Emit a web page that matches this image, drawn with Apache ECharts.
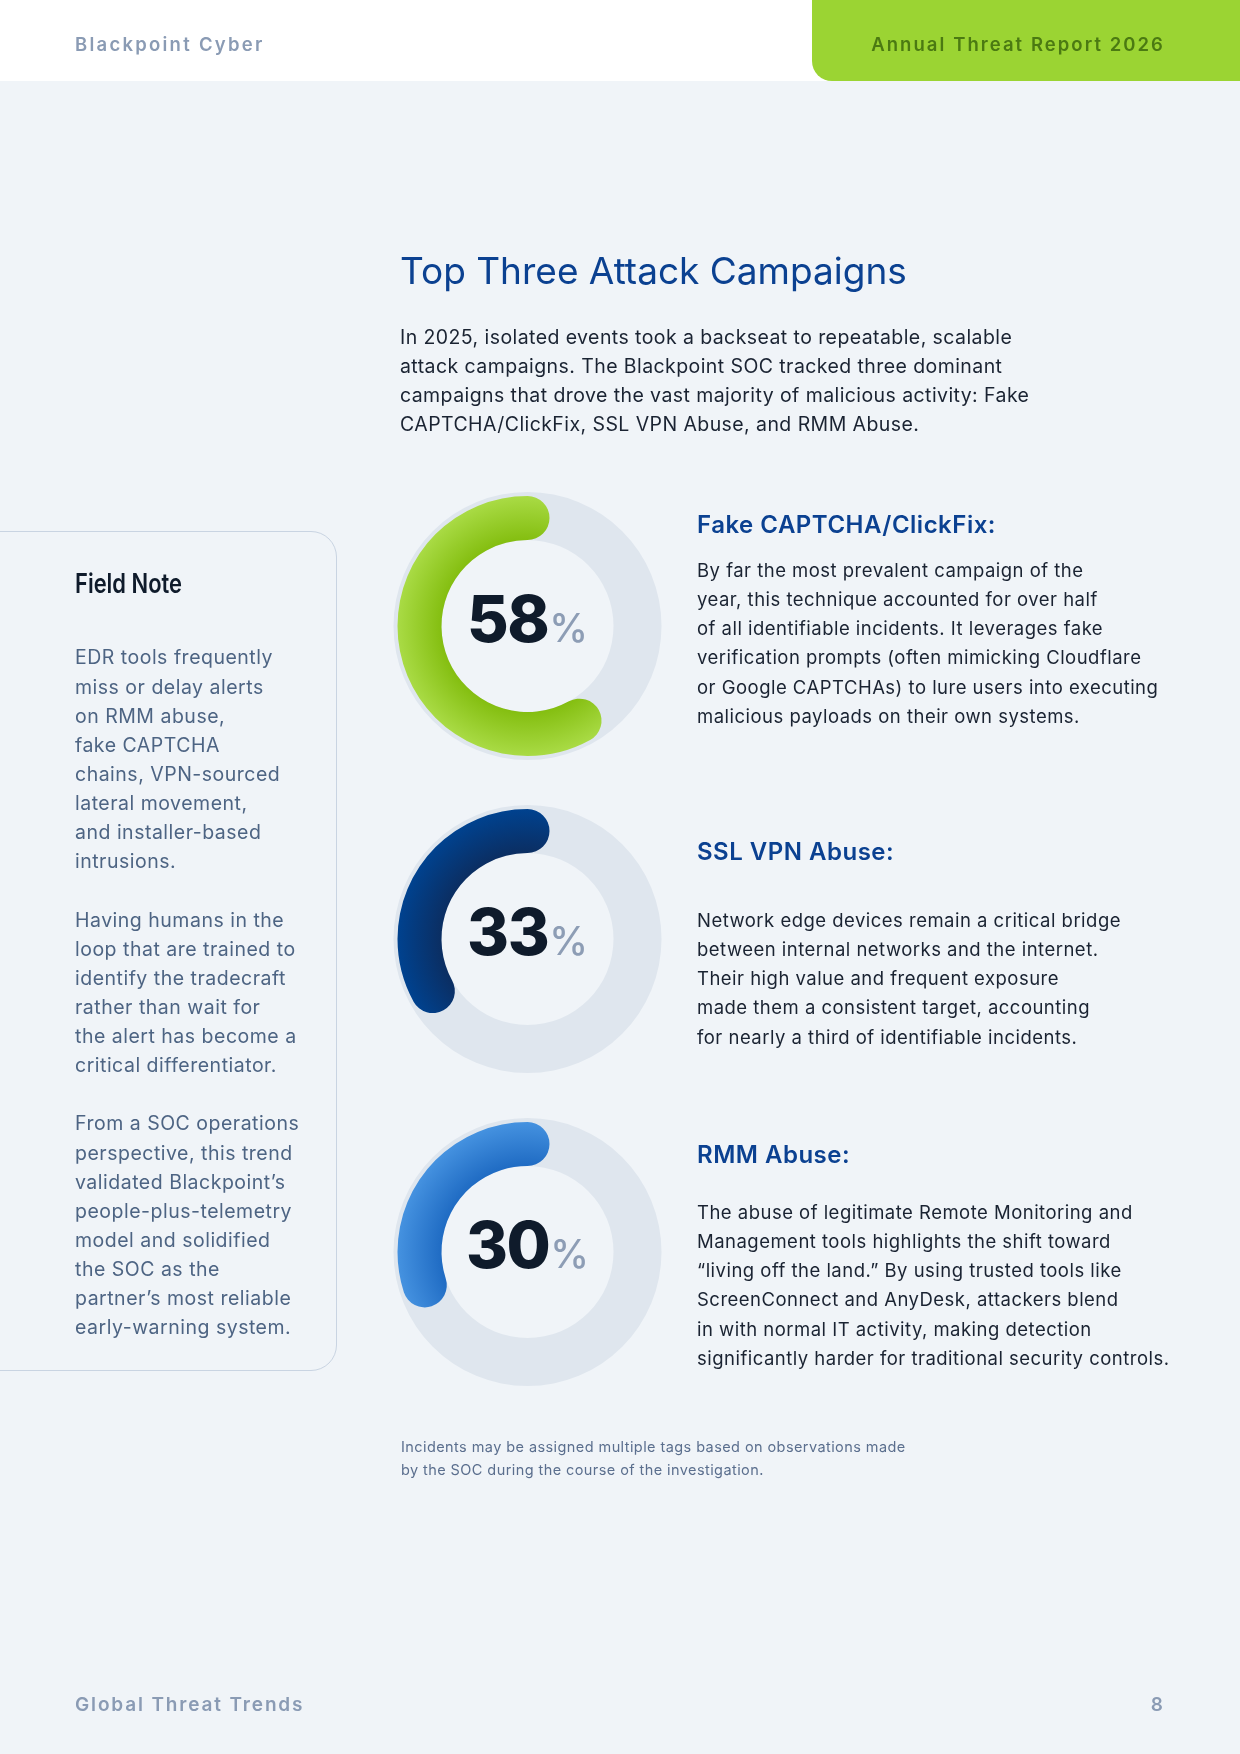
<!DOCTYPE html>
<html>
<head>
<meta charset="utf-8">
<script src="https://cdn.jsdelivr.net/npm/echarts@6/dist/echarts.min.js"></script>
<style>
  html, body { margin:0; padding:0; }
  body { width:1240px; height:1754px; background:#f0f4f8; position:relative; overflow:hidden; font-family:Inter, "Noto Sans", sans-serif; }
  .abs { position:absolute; white-space:nowrap; }
  #header { position:absolute; left:0; top:0; width:1240px; height:81px; background:#ffffff; }
  #tab { position:absolute; left:812px; top:0; width:428px; height:81px; background:#9bd433; border-bottom-left-radius:20px; }
  #chart { position:absolute; left:0; top:0; width:1240px; height:1754px; }
  #note { position:absolute; left:-30px; top:531px; width:367px; height:840px; border:1.5px solid #c9d4e2; border-radius:0 26px 26px 0; box-sizing:border-box; }
  .pct { position:absolute; width:200px; text-align:center; white-space:nowrap; line-height:1; }
  .pct .n { font-family:Inter, sans-serif; font-weight:800; font-size:64px; color:#0f1b2b; letter-spacing:-1.5px; }
  .pct .p { font-family:Inter, sans-serif; font-weight:500; font-size:39px; color:#8d9db5; margin-left:1px; }
</style>
</head>
<body>
<div id="header"></div>
<div id="tab"></div>
<div id="note"></div>
<div id="chart"></div>
<div id="texts"></div>
<script>
// ---- data ----
const campaigns = ['Fake CAPTCHA/ClickFix', 'SSL VPN Abuse', 'RMM Abuse'];
const shares = [58, 33, 30];
const descriptions = [
  ['By far the most prevalent campaign of the',
   'year, this technique accounted for over half',
   'of all identifiable incidents. It leverages fake',
   'verification prompts (often mimicking Cloudflare',
   'or Google CAPTCHAs) to lure users into executing',
   'malicious payloads on their own systems.'],
  ['Network edge devices remain a critical bridge',
   'between internal networks and the internet.',
   'Their high value and frequent exposure',
   'made them a consistent target, accounting',
   'for nearly a third of identifiable incidents.'],
  ['The abuse of legitimate Remote Monitoring and',
   'Management tools highlights the shift toward',
   '\u201Cliving off the land.\u201D By using trusted tools like',
   'ScreenConnect and AnyDesk, attackers blend',
   'in with normal IT activity, making detection',
   'significantly harder for traditional security controls.']
];
const pageTitle = 'Top Three Attack Campaigns';
const introLines = [
  'In 2025, isolated events took a backseat to repeatable, scalable',
  'attack campaigns. The Blackpoint SOC tracked three dominant',
  'campaigns that drove the vast majority of malicious activity: Fake',
  'CAPTCHA/ClickFix, SSL VPN Abuse, and RMM Abuse.'
];
const noteTitle = 'Field Note';
const noteLines = [
  'EDR tools frequently','miss or delay alerts','on RMM abuse,','fake CAPTCHA',
  'chains, VPN-sourced','lateral movement,','and installer-based','intrusions.','',
  'Having humans in the','loop that are trained to','identify the tradecraft','rather than wait for',
  'the alert has become a','critical differentiator.','',
  'From a SOC operations','perspective, this trend','validated Blackpoint\u2019s','people-plus-telemetry',
  'model and solidified','the SOC as the','partner\u2019s most reliable','early-warning system.'
];
const footnoteLines = [
  'Incidents may be assigned multiple tags based on observations made',
  'by the SOC during the course of the investigation.'
];
const headerLeft = 'Blackpoint Cyber';
const headerRight = 'Annual Threat Report 2026';
const footerLeft = 'Global Threat Trends';
const pageNumber = '8';

// ---- layout / style (not data) ----
const CX = 527.5;
const centersY = [626, 939, 1252];
const R_IN = 86, R_OUT = 130, TRACK_OUT = 134;
const gradStops = [
  [['0.66', '#84be10'], ['1', '#a9db45']],
  [['0.66', '#0b2e62'], ['1', '#00428f']],
  [['0.66', '#1f6bc3'], ['1', '#4592e0']]
];
const headingTops = [509.75, 836.75, 1139.75];
const bodyTops = [555.7, 905.7, 1197.7];

// ---- text (HTML) ----
const T = document.getElementById('texts');
function addText(html, css) {
  const d = document.createElement('div');
  d.className = 'abs';
  d.style.cssText = css;
  d.innerHTML = html;
  T.appendChild(d);
  return d;
}
const esc = s => s.replace(/&/g,'&amp;').replace(/</g,'&lt;');
addText(esc(headerLeft), 'left:75px;top:32.8px;font-size:18.5px;line-height:22.4px;font-weight:600;color:#8a9bb4;letter-spacing:2.25px;');
addText(esc(headerRight), 'right:75px;top:32.8px;font-size:18.5px;line-height:22.4px;font-weight:600;color:#4b7a12;letter-spacing:2.05px;');
addText(esc(pageTitle), 'left:400px;top:249px;font-size:37px;line-height:44.8px;font-weight:400;color:#0b4191;');
addText(introLines.map(esc).join('<br>'), 'left:400px;top:322.8px;font-size:19.5px;line-height:29.1px;color:#1a2332;letter-spacing:0.42px;');
campaigns.forEach((c, i) => {
  addText(esc(c) + ':', `left:697px;top:${headingTops[i]}px;font-size:24px;line-height:29.06px;font-weight:600;color:#0b4191;letter-spacing:0.5px;`);
  addText(descriptions[i].map(esc).join('<br>'), `left:697px;top:${bodyTops[i]}px;font-size:18.5px;line-height:29.2px;color:#1a2332;letter-spacing:0.48px;`);
});
addText(footnoteLines.map(esc).join('<br>'), 'left:401px;top:1435.1px;font-size:14.5px;line-height:23px;color:#5b6f8e;letter-spacing:0.42px;');
const nt = addText(esc(noteTitle), 'left:75px;top:568.6px;font-family:Inter,sans-serif;font-size:27px;line-height:30.2px;font-weight:600;color:#0f1b2b;transform-origin:0 50%;');
nt.style.transform = 'scaleX(' + (107 / nt.getBoundingClientRect().width).toFixed(3) + ')';
addText(noteLines.map(l => l ? esc(l) : '&nbsp;').join('<br>'), 'left:75px;top:643.4px;font-size:19.5px;line-height:29.13px;color:#4d6483;letter-spacing:0.5px;');
addText(esc(footerLeft), 'left:75px;top:1692.6px;font-size:19px;line-height:23px;font-weight:600;color:#8a9bb4;letter-spacing:1.85px;');
addText(esc(pageNumber), 'right:77px;top:1692.6px;font-size:19px;line-height:23px;font-weight:600;color:#8a9bb4;');

shares.forEach((v, i) => {
  const d = document.createElement('div');
  d.className = 'pct';
  d.style.left = (CX - 100) + 'px';
  d.style.top = (centersY[i] - 39) + 'px';
  d.innerHTML = `<span class="n">${v}</span><span class="p">%</span>`;
  T.appendChild(d);
});

// ---- chart ----
const chart = echarts.init(document.getElementById('chart'), null, { renderer: 'canvas' });
const option = {
  backgroundColor: 'transparent',
  animation: false,
  polar: centersY.map(cy => ({ center: [CX, cy], radius: [R_IN, R_OUT] })),
  angleAxis: shares.map((_, i) => ({
    polarIndex: i, type: 'value', min: 0, max: 100,
    startAngle: 90, clockwise: false, show: false
  })),
  radiusAxis: shares.map((_, i) => ({
    polarIndex: i, type: 'category', data: [campaigns[i]], show: false
  })),
  graphic: centersY.map(cy => ({
    type: 'ring', z: 0, silent: true,
    shape: { cx: CX, cy: cy, r: TRACK_OUT, r0: R_IN },
    style: { fill: '#dfe6ee' }
  })),
  series: shares.map((v, i) => ({
    type: 'bar',
    coordinateSystem: 'polar',
    polarIndex: i,
    name: campaigns[i],
    data: [v],
    roundCap: true,
    barCategoryGap: '0%',
    z: 5,
    silent: true,
    itemStyle: {
      color: new echarts.graphic.RadialGradient(CX, centersY[i], R_OUT,
        gradStops[i].map(s => ({ offset: +s[0], color: s[1] })), true)
    }
  }))
};
chart.setOption(option);
</script>
</body>
</html>
